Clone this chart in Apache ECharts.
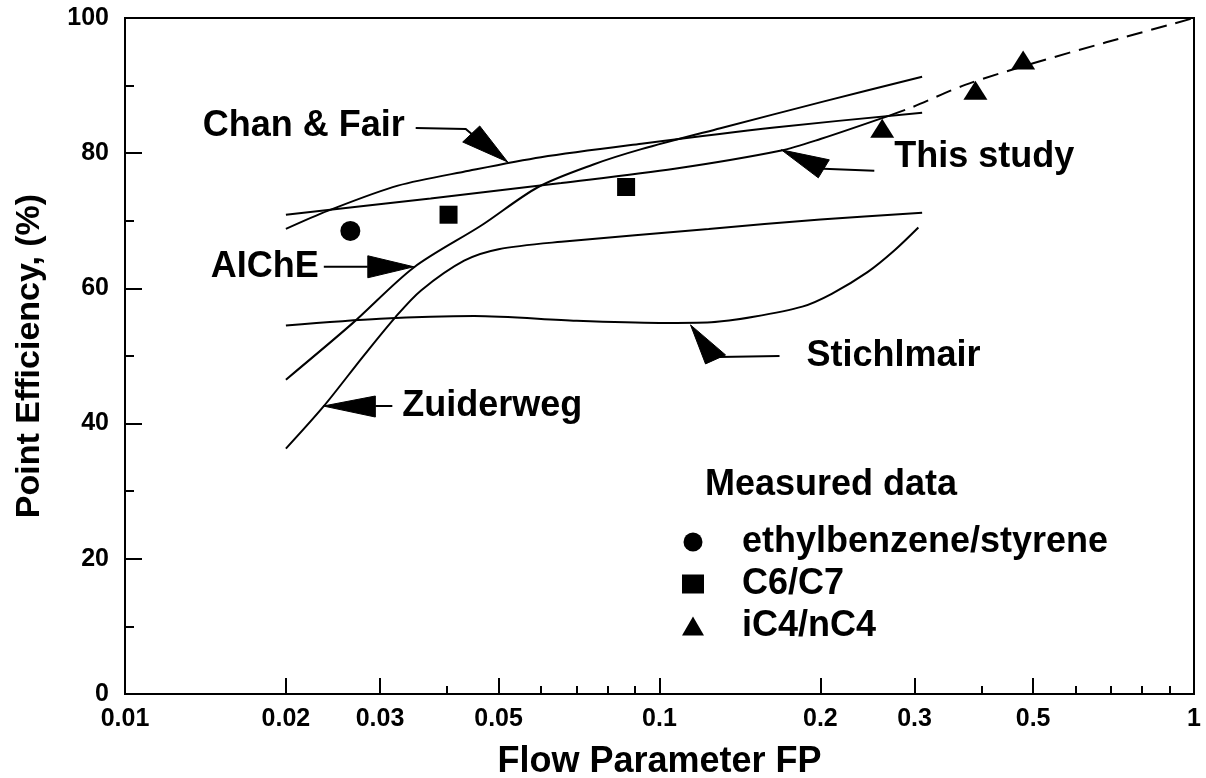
<!DOCTYPE html>
<html>
<head>
<meta charset="utf-8">
<title>Point Efficiency vs Flow Parameter</title>
<script src="https://cdn.jsdelivr.net/npm/echarts@6/dist/echarts.min.js"></script>
<style>
  html, body { margin: 0; padding: 0; background: #fff; }
  #chart { width: 1206px; height: 778px; }
</style>
</head>
<body>
<div id="chart"></div>
<script>
const FONT = '"Liberation Sans", Arial, Helvetica, sans-serif';

// Flow parameter axis (logarithmic)
const xMajorTicks = [0.01, 0.02, 0.03, 0.05, 0.1, 0.2, 0.3, 0.5, 1];
const xMinorTicks = [0.04, 0.06, 0.07, 0.08, 0.09, 0.4, 0.6, 0.7, 0.8, 0.9];

// Correlation curves: [FP, point efficiency %]
const chanFair = [[0.02, 68.8], [0.024, 71.5], [0.0324, 75.2], [0.044, 77.4], [0.06, 79.4], [0.0925, 81.4], [0.164, 83.8], [0.31, 86.0]];
const thisStudy = [[0.02, 70.9], [0.0373, 73.3], [0.0655, 75.6], [0.1067, 77.7], [0.169, 80.4], [0.2, 82.1], [0.27, 85.6]];
const thisStudyExtended = [[0.27, 85.6], [0.297, 86.8], [0.373, 90.1], [0.5, 93.3], [0.685, 96.4], [1, 100]];
const aiche = [[0.02, 46.5], [0.0267, 54.9], [0.0347, 63.1], [0.0464, 69.3], [0.0593, 75.0], [0.075, 78.3], [0.0925, 80.6], [0.13, 83.7], [0.204, 87.7], [0.31, 91.3]];
const zuiderweg = [[0.02, 36.3], [0.0235, 42.5], [0.028, 50.1], [0.0321, 55.8], [0.0358, 59.7], [0.0431, 64.1], [0.05, 65.8], [0.0655, 66.9], [0.1236, 68.8], [0.2, 70.2], [0.31, 71.2]];
const stichlmair = [[0.02, 54.5], [0.03, 55.5], [0.045, 55.9], [0.07, 55.2], [0.1, 54.9], [0.125, 55.0], [0.15, 55.8], [0.185, 57.3], [0.21, 59.2], [0.245, 62.4], [0.275, 65.6], [0.305, 69.0]];

// Measured data
const ethylbenzeneStyrene = [[0.0264, 68.5]];
const c6c7 = [[0.0403, 70.9], [0.0866, 75.0]];
const ic4nc4 = [[0.261, 83.7], [0.39, 89.3], [0.479, 93.8]];

// Curve labels with arrows (tip in data space, the rest in pixel offsets from the tip)
const annotations = [
  { text: 'Chan & Fair', tip: [0.052, 78.7], head: [[-45, -20], [-28, -36]], leader: [[-36, -28], [-42, -33], [-92, -34]], label: [-103, -36], align: 'right' },
  { text: 'This study', tip: [0.169, 80.5], head: [[48, 10], [37, 28]], leader: [[42, 19], [93, 21]], label: [113, 7], align: 'left' },
  { text: 'AIChE', tip: [0.0347, 63.2], head: [[-46, -11], [-46, 11]], leader: [[-46, 0], [-90, 0]], label: [-95, 0], align: 'right' },
  { text: 'Zuiderweg', tip: [0.0235, 42.6], head: [[52, -10], [52, 11]], leader: [[52, 0], [69, 0]], label: [79, 0], align: 'left' },
  { text: 'Stichlmair', tip: [0.1143, 54.6], head: [[15, 39], [35, 30]], leader: [[28, 32], [89, 31]], label: [116, 31], align: 'left' }
];

const chart = echarts.init(document.getElementById('chart'), null, { renderer: 'canvas' });

function curve(name, data, extra) {
  return Object.assign({
    name: name,
    type: 'line',
    data: data,
    xAxisIndex: 0,
    yAxisIndex: 0,
    symbol: 'none',
    showSymbol: false,
    smooth: 0.3,
    silent: true,
    lineStyle: { color: '#000', width: 2 },
    z: 2
  }, extra || {});
}

function points(name, data, symbol, size) {
  return {
    name: name,
    type: 'scatter',
    data: data,
    xAxisIndex: 0,
    yAxisIndex: 0,
    symbol: symbol,
    symbolSize: size,
    itemStyle: { color: '#000', opacity: 1 },
    silent: true,
    z: 5
  };
}

const labelFmt = v => String(+v.toPrecision(6));

chart.setOption({
  animation: false,
  backgroundColor: '#fff',
  textStyle: { fontFamily: FONT },
  grid: {
    left: 125, top: 18, width: 1069, height: 676,
    outerBoundsMode: 'none', containLabel: false,
    show: true, borderColor: '#000', borderWidth: 2, backgroundColor: 'transparent'
  },
  title: {
    text: 'Measured data',
    left: 705, top: 467, padding: 0,
    textStyle: { fontFamily: FONT, fontSize: 36, fontWeight: 'bold', color: '#000' }
  },
  legend: {
    data: ['ethylbenzene/styrene', 'C6/C7', 'iC4/nC4'],
    orient: 'vertical',
    left: 682, top: 524, padding: 0,
    itemWidth: 22, itemHeight: 19, itemGap: 6,
    selectedMode: false,
    itemStyle: { opacity: 1 },
    textStyle: { fontFamily: FONT, fontSize: 36, fontWeight: 'bold', color: '#000', lineHeight: 36, padding: [0, 0, 0, 33] }
  },
  xAxis: [
    {
      type: 'log', min: 0.01, max: 1, logBase: 10,
      name: 'Flow Parameter FP', nameLocation: 'middle', nameGap: 50,
      nameTextStyle: { fontFamily: FONT, fontSize: 36, fontWeight: 'bold', color: '#000' },
      axisLine: { show: true, lineStyle: { color: '#000', width: 2 } },
      axisTick: { show: true, inside: true, length: 16, lineStyle: { color: '#000', width: 2 }, customValues: xMajorTicks },
      axisLabel: { show: true, margin: 13, fontFamily: FONT, fontSize: 25, fontWeight: 'bold', color: '#000', customValues: xMajorTicks, formatter: labelFmt },
      splitLine: { show: false },
      minorTick: { show: false }
    },
    {
      type: 'log', min: 0.01, max: 1, logBase: 10, position: 'bottom', gridIndex: 0,
      axisLine: { show: false },
      axisTick: { show: true, inside: true, length: 8, lineStyle: { color: '#000', width: 2 }, customValues: xMinorTicks },
      axisLabel: { show: false },
      splitLine: { show: false }
    }
  ],
  yAxis: {
    type: 'value', min: 0, max: 100, interval: 20,
    name: 'Point Efficiency, (%)', nameLocation: 'middle', nameGap: 78,
    nameTextStyle: { fontFamily: FONT, fontSize: 34, fontWeight: 'bold', color: '#000' },
    axisLine: { show: true, lineStyle: { color: '#000', width: 2 } },
    axisTick: { show: true, inside: true, length: 17, lineStyle: { color: '#000', width: 2 } },
    minorTick: { show: true, splitNumber: 2, length: 9, lineStyle: { color: '#000', width: 2 } },
    axisLabel: { margin: 16, fontFamily: FONT, fontSize: 25, fontWeight: 'bold', color: '#000' },
    splitLine: { show: false }
  },
  series: [
    curve('Chan & Fair', chanFair),
    curve('This study', thisStudy),
    curve('This study (extended)', thisStudyExtended, { lineStyle: { color: '#000', width: 2, type: [16, 9] } }),
    curve('AIChE', aiche),
    curve('Zuiderweg', zuiderweg),
    curve('Stichlmair', stichlmair),
    points('ethylbenzene/styrene', ethylbenzeneStyrene, 'circle', 20),
    points('C6/C7', c6c7, 'rect', 18),
    points('iC4/nC4', ic4nc4, 'triangle', [24, 19])
  ]
});

// Arrowed curve labels
const graphics = [];
annotations.forEach(a => {
  const p = chart.convertToPixel({ seriesIndex: 0 }, a.tip);
  const at = o => [p[0] + o[0], p[1] + o[1]];
  graphics.push({
    type: 'polyline', silent: true, z: 10,
    shape: { points: a.leader.map(at) },
    style: { stroke: '#000', lineWidth: 2, fill: null }
  });
  graphics.push({
    type: 'polygon', silent: true, z: 10,
    shape: { points: [p, at(a.head[0]), at(a.head[1])] },
    style: { fill: '#000', stroke: '#000', lineWidth: 1 }
  });
  const lp = at(a.label);
  graphics.push({
    type: 'text', silent: true, z: 10,
    x: lp[0], y: lp[1],
    style: {
      text: a.text, fill: '#000',
      font: 'bold 36px ' + FONT,
      align: a.align, verticalAlign: 'middle'
    }
  });
});
chart.setOption({ graphic: graphics });
</script>
</body>
</html>
